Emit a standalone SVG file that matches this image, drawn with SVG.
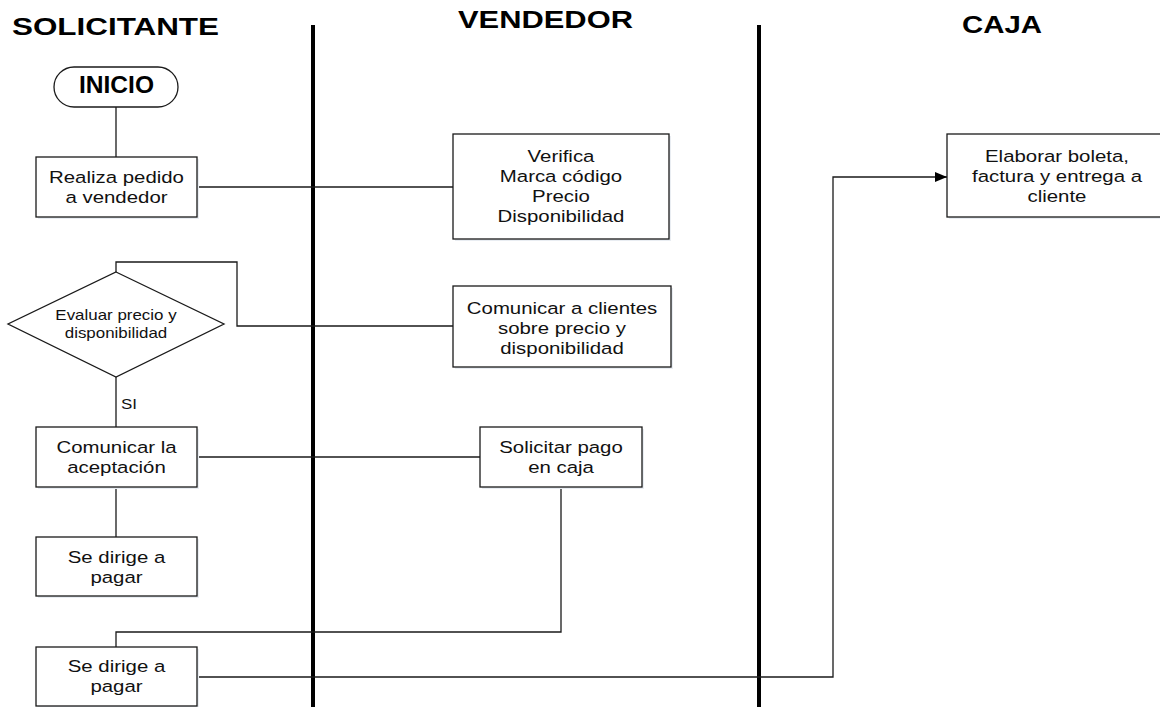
<svg xmlns="http://www.w3.org/2000/svg" width="1160" height="707" viewBox="0 0 1160 707">
  <style>
    .lane { stroke: #000; stroke-width: 4; fill: none; }
    .title { font-family: "Liberation Sans", Arial, sans-serif; font-weight: bold; font-size: 24px; fill: #000; }
    .box { fill: #fff; stroke: #1a1a1a; stroke-width: 1.3; }
    .shadow { fill: #e9edf2; stroke: none; }
    .lbl { font-family: "Liberation Sans", Arial, sans-serif; font-size: 17px; fill: #111; text-anchor: middle; }
    .small { font-family: "Liberation Sans", Arial, sans-serif; font-size: 14px; fill: #111; text-anchor: middle; }
    .conn { fill: none; stroke: #1a1a1a; stroke-width: 1.3; }
  </style>
  <defs>
    <marker id="arrow" viewBox="0 0 12 10" refX="12" refY="5" markerWidth="12" markerHeight="10" markerUnits="userSpaceOnUse" orient="auto">
      <path d="M0,0 L12,5 L0,10 Z" fill="#000"/>
    </marker>
  </defs>
  <rect width="1160" height="707" fill="#fff"/>

  <!-- swimlane headers and separators -->
  <g id="lanes">
    <text class="title" x="12" y="35" font-size="26" textLength="207" lengthAdjust="spacingAndGlyphs">SOLICITANTE</text>
    <text class="title" x="458" y="28" font-size="22" textLength="175" lengthAdjust="spacingAndGlyphs">VENDEDOR</text>
    <text class="title" x="962" y="33" font-size="22" textLength="80" lengthAdjust="spacingAndGlyphs">CAJA</text>
    <line class="lane" x1="313" y1="25" x2="313" y2="707"/>
    <line class="lane" x1="759" y1="25" x2="759" y2="707"/>
  </g>

  <!-- connectors -->
  <g id="connectors">
    <path class="conn" d="M116,107 V157"/>
    <path class="conn" d="M197,187 H453"/>
    <path class="conn" d="M116,272 V262 H237 V326 H453"/>
    <path class="conn" d="M116,377 V427"/>
    <path class="conn" d="M197,457 H480"/>
    <path class="conn" d="M116,487 V537"/>
    <path class="conn" d="M561,487 V632 H116 V647"/>
    <path class="conn" d="M197,677 H833 V177 H947" marker-end="url(#arrow)"/>
    <text class="small" x="121" y="409" textLength="16" lengthAdjust="spacingAndGlyphs" style="text-anchor:start">SI</text>
  </g>

  <g id="inicio">
    <rect class="box" x="54" y="67" width="124" height="40" rx="20" ry="20"/>
    <text class="title" x="79" y="93" font-size="18" textLength="75" lengthAdjust="spacingAndGlyphs">INICIO</text>
  </g>

  <g id="realiza-pedido">
    <rect class="shadow" x="38" y="159" width="161" height="60"/>
    <rect class="box" x="36" y="157" width="161" height="60"/>
    <text class="lbl" transform="matrix(1.2,0,0,1,116.5,182.5)">Realiza pedido</text>
    <text class="lbl" transform="matrix(1.2,0,0,1,116.5,202.5)">a vendedor</text>
  </g>

  <g id="verifica">
    <rect class="shadow" x="455" y="136" width="216" height="105"/>
    <rect class="box" x="453" y="134" width="216" height="105"/>
    <text class="lbl" transform="matrix(1.2,0,0,1,561,162)">Verifica</text>
    <text class="lbl" transform="matrix(1.2,0,0,1,561,182)">Marca código</text>
    <text class="lbl" transform="matrix(1.2,0,0,1,561,202)">Precio</text>
    <text class="lbl" transform="matrix(1.2,0,0,1,561,222)">Disponibilidad</text>
  </g>

  <g id="evaluar">
    <polygon class="box" points="116,272 224,324 116,377 8,324"/>
    <text class="small" transform="matrix(1.21,0,0,1,116,320)">Evaluar precio y</text>
    <text class="small" transform="matrix(1.21,0,0,1,116,338)">disponibilidad</text>
  </g>

  <g id="comunicar-clientes">
    <rect class="shadow" x="455" y="288" width="218" height="81"/>
    <rect class="box" x="453" y="286" width="218" height="81"/>
    <text class="lbl" transform="matrix(1.2,0,0,1,562,314)">Comunicar a clientes</text>
    <text class="lbl" transform="matrix(1.2,0,0,1,562,334)">sobre precio y</text>
    <text class="lbl" transform="matrix(1.2,0,0,1,562,354)">disponibilidad</text>
  </g>

  <g id="comunicar-aceptacion">
    <rect class="shadow" x="38" y="429" width="161" height="60"/>
    <rect class="box" x="36" y="427" width="161" height="60"/>
    <text class="lbl" transform="matrix(1.2,0,0,1,116.5,453)">Comunicar la</text>
    <text class="lbl" transform="matrix(1.2,0,0,1,116.5,473)">aceptación</text>
  </g>

  <g id="solicitar-pago">
    <rect class="shadow" x="482" y="429" width="162" height="60"/>
    <rect class="box" x="480" y="427" width="162" height="60"/>
    <text class="lbl" transform="matrix(1.2,0,0,1,561,453)">Solicitar pago</text>
    <text class="lbl" transform="matrix(1.2,0,0,1,561,473)">en caja</text>
  </g>

  <g id="dirige-pagar-1">
    <rect class="shadow" x="38" y="539" width="161" height="59"/>
    <rect class="box" x="36" y="537" width="161" height="59"/>
    <text class="lbl" transform="matrix(1.2,0,0,1,116.5,563)">Se dirige a</text>
    <text class="lbl" transform="matrix(1.2,0,0,1,116.5,583)">pagar</text>
  </g>

  <g id="dirige-pagar-2">
    <rect class="shadow" x="38" y="649" width="161" height="59"/>
    <rect class="box" x="36" y="647" width="161" height="59"/>
    <text class="lbl" transform="matrix(1.2,0,0,1,116.5,672)">Se dirige a</text>
    <text class="lbl" transform="matrix(1.2,0,0,1,116.5,692)">pagar</text>
  </g>

  <g id="elaborar-boleta">
    <rect class="shadow" x="949" y="136" width="230" height="83"/>
    <rect class="box" x="947" y="134" width="230" height="83"/>
    <text class="lbl" transform="matrix(1.2,0,0,1,1057,162)">Elaborar boleta,</text>
    <text class="lbl" transform="matrix(1.2,0,0,1,1057,182)">factura y entrega a</text>
    <text class="lbl" transform="matrix(1.2,0,0,1,1057,202)">cliente</text>
  </g>
</svg>
